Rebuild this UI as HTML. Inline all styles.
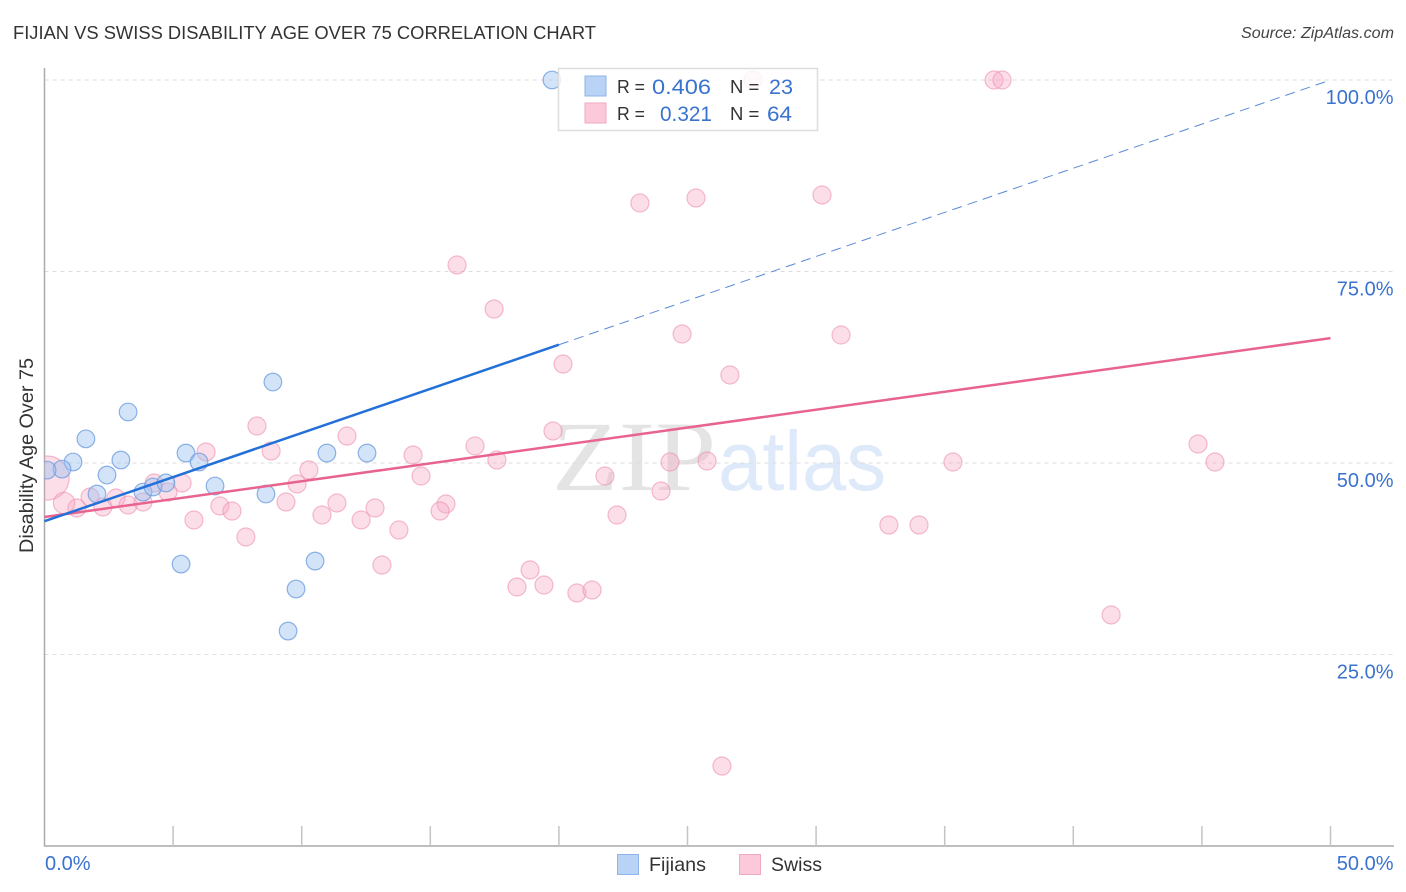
<!DOCTYPE html>
<html lang="en">
<head>
<meta charset="utf-8">
<title>Fijian vs Swiss Disability Age Over 75 Correlation Chart</title>
<style>
html,body{margin:0;padding:0;background:#fff;width:1406px;height:892px;overflow:hidden}
svg{display:block}
text{font-family:"Liberation Sans",sans-serif}
</style>
</head>
<body>
<svg id="chart" xmlns="http://www.w3.org/2000/svg" width="1406" height="892" viewBox="0 0 1406 892">
  <defs><clipPath id="plot-clip"><rect x="44.5" y="60" width="1350" height="786"/></clipPath></defs>
  <text x="13" y="39" font-size="18.5" fill="#333" textLength="583" lengthAdjust="spacingAndGlyphs">FIJIAN VS SWISS DISABILITY AGE OVER 75 CORRELATION CHART</text>
  <text x="1241" y="38" font-size="15.5" font-style="italic" fill="#444" textLength="153" lengthAdjust="spacingAndGlyphs">Source: ZipAtlas.com</text>
  <g>
    <text x="552" y="490" font-size="100" fill="#e4e4e4" style="font-family:'Liberation Serif',serif" textLength="164" lengthAdjust="spacingAndGlyphs">ZIP</text>
    <text x="718" y="490" font-size="84" fill="#deeaf9" textLength="168" lengthAdjust="spacingAndGlyphs">atlas</text>
  </g>
  <g id="grid"></g>
  <g id="axes"></g>
  <g id="marks" clip-path="url(#plot-clip)"></g>
  <g id="lines"></g>
  <text transform="translate(33,553) rotate(-90)" font-size="19" fill="#333" textLength="195" lengthAdjust="spacingAndGlyphs">Disability Age Over 75</text>
  <g id="labels"></g>
  <g>
    <rect x="558.5" y="68.5" width="259" height="62" fill="#fff" fill-opacity="0.82" stroke="#ddd" stroke-width="1.5"/>
    <rect x="585" y="76" width="21" height="20" fill="#b9d3f6" stroke="#8fb4e8"/>
    <rect x="585" y="103" width="21" height="20" fill="#fbc9da" stroke="#f3a9c2"/>
    <text x="617" y="93" font-size="18.5" fill="#333" textLength="28" lengthAdjust="spacingAndGlyphs">R =</text>
    <text x="652" y="94" font-size="21.5" fill="#3a72cf" textLength="59" lengthAdjust="spacingAndGlyphs">0.406</text>
    <text x="730" y="93" font-size="18.5" fill="#333">N =</text>
    <text x="769" y="94" font-size="21.5" fill="#3a72cf" textLength="24" lengthAdjust="spacingAndGlyphs">23</text>
    <text x="617" y="120" font-size="18.5" fill="#333" textLength="28" lengthAdjust="spacingAndGlyphs">R =</text>
    <text x="660" y="121" font-size="21.5" fill="#3a72cf" textLength="52" lengthAdjust="spacingAndGlyphs">0.321</text>
    <text x="730" y="120" font-size="18.5" fill="#333">N =</text>
    <text x="767" y="121" font-size="21.5" fill="#3a72cf" textLength="25" lengthAdjust="spacingAndGlyphs">64</text>
  </g>
  <g>
    <rect x="617.5" y="854.5" width="21" height="20" fill="#b9d3f6" stroke="#8fb4e8"/>
    <text x="649" y="871" font-size="19.5" fill="#333" textLength="57" lengthAdjust="spacingAndGlyphs">Fijians</text>
    <rect x="739.5" y="854.5" width="21" height="20" fill="#fbc9da" stroke="#f3a9c2"/>
    <text x="771" y="871" font-size="19.5" fill="#333" textLength="51" lengthAdjust="spacingAndGlyphs">Swiss</text>
  </g>
</svg>
<script>
var fijianX = [19.73,8.88,3.25,1.61,1.11,0.68,0.10,2.97,2.43,2.04,3.83,4.22,4.72,5.50,6.01,6.63,8.61,10.98,12.54,5.31,10.52,9.78,9.47];
var fijianY = [100,60.57,56.66,53.15,50.13,49.2,49.07,50.39,48.43,45.95,46.2,46.87,47.4,51.3,50.13,47.0,45.95,51.3,51.3,36.8,37.2,33.55,28.06];
var swissX = [27.55,36.92,37.23,23.15,25.33,30.23,16.04,17.48,24.79,30.97,26.65,20.16,8.26,6.28,8.81,11.76,19.77,16.74,14.33,17.59,24.32,25.76,35.32,44.85,45.51,10.28,9.82,14.64,21.79,23.97,5.35,4.26,4.80,2.78,1.26,2.27,3.25,3.83,9.39,11.37,15.61,12.85,15.38,6.82,7.29,10.79,12.31,5.81,22.26,7.83,13.78,32.83,34.00,13.12,18.88,18.37,19.42,20.70,21.29,41.47,26.34,0.10,0.76,1.77];
var swissY = [100,100,100,83.94,84.60,84.99,75.85,70.10,66.84,66.71,61.49,62.92,54.83,51.44,51.57,53.52,54.18,52.22,51.04,50.39,50.13,50.26,50.13,52.48,50.13,49.09,47.26,48.30,48.30,46.34,47.39,47.39,46.21,45.43,44.13,44.26,44.52,44.91,44.91,44.78,44.65,44.13,43.73,44.39,43.73,43.21,42.56,42.56,43.21,40.34,41.25,41.91,41.91,36.68,36.03,33.81,34.07,33.03,33.42,30.16,10.44,48.04,44.78,45.56];
var swissWeight = [1,1,1,1,1,1,1,1,1,1,1,1,1,1,1,1,1,1,1,1,1,1,1,1,1,1,1,1,1,1,1,1,1,1,1,1,1,1,1,1,1,1,1,1,1,1,1,1,1,1,1,1,1,1,1,1,1,1,1,1,1,6,1.4,1];
var fijianTrend = [42.4,100];
var fijianSolidEnd = 20;
var swissTrend = [42.95,66.3];
var xRange = [0,50];
var xTicks = [0,5,10,15,20,25,30,35,40,45,50];
var xLabelValues = [0,50];
var yGrid = [25,50,75,100];
var yLabels = ["25.0%","50.0%","75.0%","100.0%"];

var NS = "http://www.w3.org/2000/svg";
function sx(v){ return 44.5 + (v - xRange[0]) / (xRange[1] - xRange[0]) * 1286; }
function sy(v){ return 846 - v * 7.66; }
function make(tag, attrs, parent){
  var el = document.createElementNS(NS, tag);
  for (var k in attrs) el.setAttribute(k, attrs[k]);
  parent.appendChild(el);
  return el;
}
var gridG = document.getElementById("grid");
var axesG = document.getElementById("axes");
var marksG = document.getElementById("marks");
var linesG = document.getElementById("lines");
var labelsG = document.getElementById("labels");

yGrid.forEach(function(v, i){
  var g = make("line", {x1:44.5, x2:1394, y1:sy(v), y2:sy(v), stroke:"#dcdcdc", "stroke-width":1, "stroke-dasharray":"4 4"}, gridG);
  
  
  var t = make("text", {x:1393.5, y:sy(v)+24, "font-size":20, fill:"#3a72cf", "text-anchor":"end"}, labelsG);
  t.textContent = yLabels[i];
  
  
});

var yAxis = make("line", {x1:44.5, x2:44.5, y1:68, y2:846.5, stroke:"#aaa", "stroke-width":1.5}, axesG);


var xAxis = make("line", {x1:44, x2:1394, y1:846, y2:846, stroke:"#aaa", "stroke-width":1.5}, axesG);


xTicks.forEach(function(v){
  if (v === 0) return;
  var tk = make("line", {x1:sx(v), x2:sx(v), y1:826, y2:846, stroke:"#c4c4c4", "stroke-width":1.5}, axesG);
  
  
});
xLabelValues.forEach(function(v){
  var anchorEnd = v === xRange[1];
  var t = make("text", {x: anchorEnd ? 1393.5 : 45, y:870, "font-size":20, fill:"#3a72cf", "text-anchor": anchorEnd ? "end" : "start"}, labelsG);
  t.textContent = v.toFixed(1) + "%";
  
  
});

swissX.forEach(function(x, i){
  var r = 9 * Math.sqrt(swissWeight[i]);
  var c = make("circle", {cx:sx(x), cy:sy(swissY[i]), r:r, fill:"#f7a8c4", "fill-opacity":0.38, stroke:"#ec8fb0", "stroke-opacity":0.6, "stroke-width":1.2}, marksG);
  
  
});
fijianX.forEach(function(x, i){
  var c = make("circle", {cx:sx(x), cy:sy(fijianY[i]), r:8.8, fill:"#9fc3f0", "fill-opacity":0.46, stroke:"#6f9fe0", "stroke-opacity":0.8, "stroke-width":1.2}, marksG);
  
  
});

function trendY(tr, x){ return tr[0] + (tr[1] - tr[0]) * (x - xRange[0]) / (xRange[1] - xRange[0]); }
var fDash = make("line", {x1:sx(fijianSolidEnd), y1:sy(trendY(fijianTrend, fijianSolidEnd)), x2:sx(xRange[1]), y2:sy(trendY(fijianTrend, xRange[1])), stroke:"#5a8ad6", "stroke-width":1, "stroke-dasharray":"10 6"}, linesG);


var sLine = make("line", {x1:sx(xRange[0]), y1:sy(trendY(swissTrend, xRange[0])), x2:sx(xRange[1]), y2:sy(trendY(swissTrend, xRange[1])), stroke:"#e8648f", "stroke-width":2.5}, linesG);


var fLine = make("line", {x1:sx(xRange[0]), y1:sy(trendY(fijianTrend, xRange[0])), x2:sx(fijianSolidEnd), y2:sy(trendY(fijianTrend, fijianSolidEnd)), stroke:"#2370d8", "stroke-width":2.5}, linesG);


</script>
</body>
</html>
